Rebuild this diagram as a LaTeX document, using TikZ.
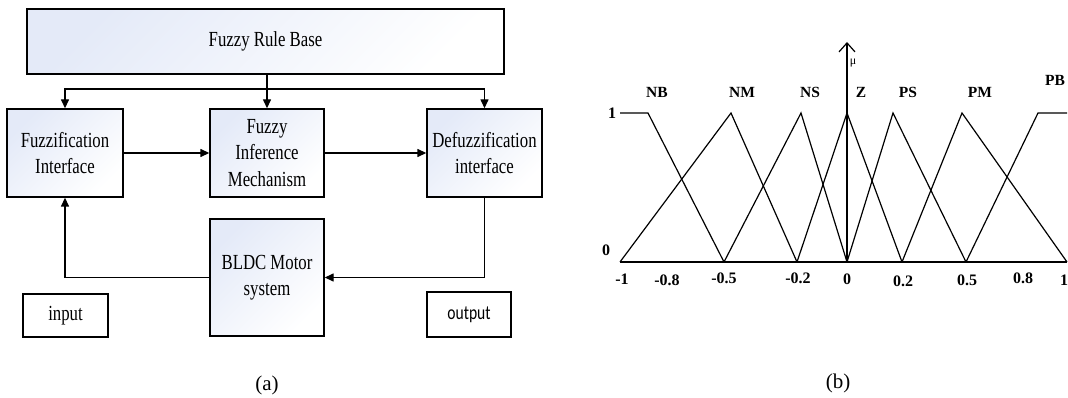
\documentclass[tikz,border=0pt]{standalone}
\usepackage{fontspec}
\setmainfont{Liberation Serif}[FakeStretch=0.78]
\newfontfamily\plainserif{Liberation Serif}
\newfontfamily\outfont{Carlito}[FakeStretch=0.78]
\usetikzlibrary{arrows.meta}
\definecolor{boxblue}{RGB}{228,234,248}
\begin{document}
\begin{tikzpicture}[x=1pt,y=-1pt,
  blk/.style={draw, line width=1.4pt, top color=boxblue, bottom color=white, shading angle=45,
    align=center, inner sep=0pt, font=\fontsize{21.5}{26.5}\selectfont},
  plainbox/.style={draw, line width=1.4pt, fill=white, inner sep=0pt},
  conn/.style={line width=1.4pt},
  mytip/.tip={Triangle[length=9pt,width=8pt]},
  curve/.style={line width=1.2pt, line join=miter},
  lab/.style={font=\plainserif\bfseries\fontsize{15.5}{17}\selectfont, inner sep=0pt},
  ticklab/.style={font=\plainserif\bfseries\fontsize{16}{18}\selectfont, inner sep=0pt},
  captxt/.style={font=\plainserif\fontsize{21}{24}\selectfont, inner sep=0pt}]
\useasboundingbox (0,0) rectangle (1068,398);

% ---------- (a) block diagram ----------
\node[blk, minimum width=477pt, minimum height=65pt] (rule) at (265.5,41.5) {Fuzzy Rule Base};
\node[blk, minimum width=116pt, minimum height=88pt] (fuzz) at (65,153) {Fuzzification\\Interface};
\node[blk, minimum width=114pt, minimum height=88pt] (inf) at (267,153) {Fuzzy\\Inference\\Mechanism};
\node[blk, minimum width=115pt, minimum height=88pt] (defuzz) at (484.5,153) {Defuzzification\\interface};
\node[blk, minimum width=114pt, minimum height=117pt] (bldc) at (267,277.5) {BLDC Motor\\system};
\node[plainbox, minimum width=85pt, minimum height=43pt, font=\fontsize{21.5}{26}\selectfont] (inp) at (65.5,315.5) {input};
\node[plainbox, minimum width=84pt, minimum height=45pt, font=\outfont\fontsize{20}{24}\selectfont] (outp) at (469,314.5) {output};
\node[captxt] (capa) at (267,385) {(a)};

\coordinate (hl) at (267,89);
\draw[conn, -mytip] (inf.north |- rule.south) -- (inf.north);
\draw[conn, mytip-mytip] (fuzz.north) -- (fuzz.north |- hl) -- (defuzz.north |- hl) -- (defuzz.north);
\draw[conn, -mytip] (fuzz.east) -- (inf.west);
\draw[conn, -mytip] (inf.east) -- (defuzz.west);
\draw[conn, -mytip] (defuzz.south) |- (bldc.east);
\draw[conn, -mytip] (bldc.west) -| (fuzz.south);

% ---------- (b) membership functions ----------
\draw[curve] (620,262) -- (1067,262);
\draw[curve, -{Straight Barb[length=9pt,width=16pt,line width=1.2pt]}] (847,262) -- (847,42);
% NB
\draw[curve] (620,113) -- (648,113) -- (724,262);
% NM
\draw[curve] (620,262) -- (731,113) -- (797,262);
% NS
\draw[curve] (724,262) -- (801,113) -- (847,262);
% Z
\draw[curve] (797,262) -- (847,113) -- (902,262);
% PS
\draw[curve] (847,262) -- (893,113) -- (966,262);
% PM
\draw[curve] (902,262) -- (962,113) -- (1067,262);
% PB
\draw[curve] (966,262) -- (1038,113) -- (1067,113);

\node[lab] (lnb) at (657,92) {NB};
\node[lab] (lnm) at (742,92) {NM};
\node[lab] (lns) at (810,92) {NS};
\node[lab] (lz)  at (861,92) {Z};
\node[lab] (lps) at (908,92) {PS};
\node[lab] (lpm) at (980,92) {PM};
\node[lab] (lpb) at (1055,80) {PB};
\node[font=\plainserif\fontsize{12}{14}\selectfont, inner sep=0pt] (mu) at (853,63) {μ};
\node[ticklab] (one) at (612,113) {1};
\node[ticklab] (zero) at (606,250) {0};

\node[ticklab] (tm1)  at (622,279) {-1};
\node[ticklab] (tm08) at (667,280) {-0.8};
\node[ticklab] (tm05) at (724,278) {-0.5};
\node[ticklab] (tm02) at (798,278) {-0.2};
\node[ticklab] (t0)   at (847,279) {0};
\node[ticklab] (t02)  at (903,281) {0.2};
\node[ticklab] (t05)  at (967,280) {0.5};
\node[ticklab] (t08)  at (1023,278) {0.8};
\node[ticklab] (t1)   at (1064,280) {1};
\node[captxt] (capb) at (838,383) {(b)};
\end{tikzpicture}
\end{document}
